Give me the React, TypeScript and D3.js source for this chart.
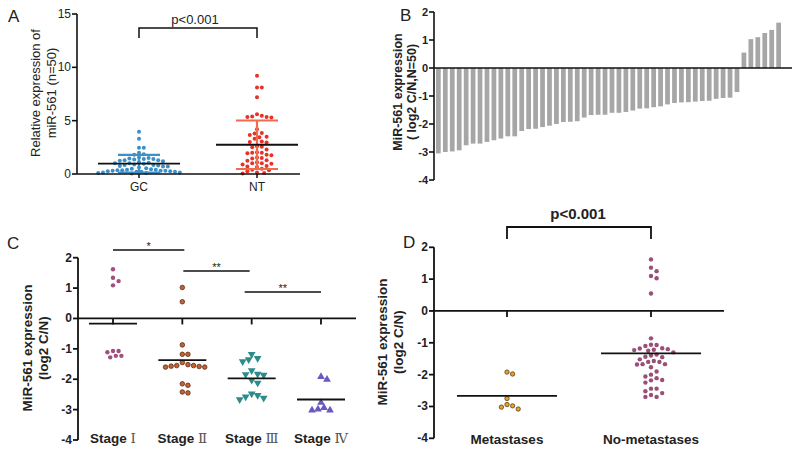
import React from "react";
import * as d3 from "d3";

// ---------- DATA ----------
const GROUPS_A = ["GC", "NT"];
const GC_VALUES = [3.95, 3.3, 2.45, 2.45, 2.0, 1.85, 1.8, 1.55, 1.5, 1.45, 1.4, 1.4, 1.35, 1.3, 1.3, 1.25, 1.2, 1.1, 1.05, 1.0, 1.0, 0.95, 0.9, 0.85, 0.85, 0.8, 0.75, 0.7, 0.7, 0.6, 0.55, 0.5, 0.45, 0.4, 0.4, 0.35, 0.35, 0.3, 0.3, 0.3, 0.25, 0.25, 0.2, 0.2, 0.2, 0.15, 0.15, 0.1, 0.1, 0.05];
const NT_VALUES = [9.2, 8.1, 8.1, 7.2, 5.6, 5.45, 5.4, 5.35, 5.35, 5.3, 4.2, 3.85, 3.8, 3.65, 3.5, 3.45, 3.3, 3.05, 3.0, 2.95, 2.6, 2.55, 2.5, 2.3, 2.05, 2.0, 2.0, 1.95, 1.8, 1.75, 1.55, 1.5, 1.45, 1.3, 1.25, 1.1, 1.0, 1.0, 0.95, 0.9, 0.75, 0.7, 0.65, 0.5, 0.4, 0.35, 0.25, 0.15, 0.1, 0.05];
const TICKS_A = [0, 5, 10, 15];

const FOLD_VALUES = [-3.05, -3.0, -2.98, -2.94, -2.76, -2.7, -2.7, -2.64, -2.58, -2.52, -2.44, -2.44, -2.25, -2.18, -2.17, -2.11, -2.06, -2.0, -1.93, -1.92, -1.9, -1.77, -1.68, -1.67, -1.67, -1.6, -1.6, -1.57, -1.52, -1.45, -1.44, -1.4, -1.37, -1.3, -1.25, -1.23, -1.22, -1.2, -1.18, -1.17, -1.1, -1.07, -1.06, -0.86, 0.55, 1.03, 1.1, 1.25, 1.36, 1.62];
const TICKS_LOG = [-4, -3, -2, -1, 0, 1, 2];

const STAGE_NUMERALS = ["Ⅰ", "Ⅱ", "Ⅲ", "Ⅳ"];
const STAGE_I = [1.62, 1.34, 1.23, 1.09, -1.07, -1.07, -1.11, -1.23, -1.28, -1.23];
const STAGE_II = [1.02, 0.55, -0.87, -1.18, -1.18, -1.45, -1.52, -1.55, -1.58, -1.6, -1.6, -1.57, -1.55, -2.15, -2.2, -2.42, -2.45];
const STAGE_III = [-1.18, -1.31, -1.35, -1.42, -1.71, -1.83, -1.84, -1.86, -2.03, -2.12, -2.48, -2.53, -2.58, -2.62, -2.67];
const STAGE_IV = [-1.92, -2.01, -2.77, -2.94, -2.99, -3.02, -3.02];
const STAGE_SIG = ["*", "**", "**"];

const GROUPS_D = ["Metastases", "No-metastases"];
const MET_VALUES = [-1.92, -1.98, -2.75, -2.94, -2.98, -3.02, -3.08];
const NONMET_VALUES = [1.62, 1.36, 1.25, 1.1, 1.03, 0.55, -0.86, -1.06, -1.07, -1.1, -1.17, -1.18, -1.2, -1.22, -1.23, -1.25, -1.3, -1.37, -1.4, -1.44, -1.45, -1.52, -1.57, -1.6, -1.6, -1.67, -1.67, -1.68, -1.77, -1.9, -2.0, -2.06, -2.11, -2.17, -2.18, -2.25, -2.44, -2.44, -2.52, -2.58, -2.64, -2.7, -2.7];

const P_TEXT = "p<0.001";

// ---------- helpers ----------
const SANS = "'Liberation Sans', Arial, sans-serif";

function swarm(values: number[], y: (v: number) => number, d: number) {
  const sorted = [...values].sort((a, b) => b - a);
  const placed: { x: number; y: number }[] = [];
  const step = d / 2;
  return sorted.map((v) => {
    const py = y(v);
    let dx = 0;
    for (let k = 0; k < 80; k++) {
      const m = Math.ceil(k / 2) * step;
      const cand = k === 0 ? 0 : k % 2 === 1 ? m : -m;
      if (placed.every((p) => (p.x - cand) ** 2 + (p.y - py) ** 2 >= d * d * 0.95)) {
        dx = cand;
        break;
      }
    }
    placed.push({ x: dx, y: py });
    return { v, dx };
  });
}

const triUp = d3.symbol(d3.symbolTriangle, 26)() as string;

function YAxis({ scale, ticks, x, bold, size = 11, width = 1.6 }: any) {
  const [r0, r1] = scale.range();
  return (
    <g>
      <line x1={x} x2={x} y1={Math.min(r0, r1)} y2={Math.max(r0, r1)} stroke="#111" strokeWidth={width} />
      {ticks.map((t: number) => (
        <g key={t}>
          <line x1={x - 5} x2={x} y1={scale(t)} y2={scale(t)} stroke="#111" strokeWidth={width} />
          <text x={x - 6} y={scale(t) + 4} textAnchor="end" fontSize={size} fontWeight={bold ? "bold" : "normal"} fontFamily={SANS} fill="#222">
            {t}
          </text>
        </g>
      ))}
    </g>
  );
}

function YTitle({ x, y, lines, bold, size, gap }: any) {
  return (
    <text transform={`translate(${x},${y}) rotate(-90)`} textAnchor="middle" fontSize={size} fontWeight={bold ? "bold" : "normal"} fontFamily={SANS} fill="#222">
      {lines.map((l: string, i: number) => (
        <tspan key={i} x={0} dy={i === 0 ? 0 : gap}>
          {l}
        </tspan>
      ))}
    </text>
  );
}

function PanelLabel({ x, y, t }: any) {
  return (
    <text x={x} y={y} fontSize={17} fontFamily={SANS} fill="#222">
      {t}
    </text>
  );
}

// ---------- Panel A ----------
function PanelA() {
  const y = d3.scaleLinear().domain([0, 15]).range([174, 14]);
  const x = d3.scalePoint<string>().domain(GROUPS_A).range([139, 257]);
  const sets = [
    { name: "GC", vals: GC_VALUES, dot: "#3a8fc9", bar: "#3d8fc6" },
    { name: "NT", vals: NT_VALUES, dot: "#e4332a", bar: "#ef6c4c" },
  ];
  return (
    <g>
      <PanelLabel x={8} y={22} t="A" />
      <YTitle x={40} y={93} lines={["Relative expression of", "miR-561 (n=50)"]} size={13} gap={16} />
      {sets.map((s) => {
        const cx = x(s.name)!;
        const m = d3.mean(s.vals)!;
        const sd = d3.deviation(s.vals)!;
        const pts = swarm(s.vals, y, 4.8);
        return (
          <g key={s.name}>
            {pts.map((p, i) => (
              <circle key={i} cx={cx + p.dx} cy={y(p.v)} r={2} fill={s.dot} />
            ))}
            <line x1={cx} x2={cx} y1={y(m + sd)} y2={y(Math.max(0, m - sd))} stroke={s.bar} strokeWidth={2.2} />
            <line x1={cx - 21} x2={cx + 21} y1={y(m + sd)} y2={y(m + sd)} stroke={s.bar} strokeWidth={2.2} />
            <line x1={cx - 21} x2={cx + 21} y1={y(Math.max(0, m - sd))} y2={y(Math.max(0, m - sd))} stroke={s.bar} strokeWidth={2.2} />
            <line x1={cx - 41} x2={cx + 41} y1={y(m)} y2={y(m)} stroke="#111" strokeWidth={1.8} />
            <line x1={cx} x2={cx} y1={y(0)} y2={y(0) + 4} stroke="#111" strokeWidth={1.5} />
            <text x={cx} y={191} textAnchor="middle" fontSize={12} fontFamily={SANS} fill="#222">
              {s.name}
            </text>
          </g>
        );
      })}
      <YAxis scale={y} ticks={TICKS_A} x={77} size={12} />
      <line x1={77} x2={300} y1={y(0)} y2={y(0)} stroke="#111" strokeWidth={1.6} />
      <path d={`M${x("GC")},38V28H${x("NT")}V38`} fill="none" stroke="#111" strokeWidth={1.5} />
      <text x={195} y={24} textAnchor="middle" fontSize={13} fontFamily={SANS} fill="#222">
        {P_TEXT}
      </text>
    </g>
  );
}

// ---------- Panel B ----------
function PanelB() {
  const y = d3.scaleLinear().domain([-4, 2]).range([180, 12]);
  const x = d3.scaleBand<number>().domain(d3.range(FOLD_VALUES.length)).range([436, 781]).paddingInner(0.32).paddingOuter(0);
  return (
    <g>
      <PanelLabel x={400} y={21} t="B" />
      <YTitle x={402} y={92} lines={["MiR-561 expression", "( log2 C/N,N=50)"]} bold size={12.5} gap={14} />
      {FOLD_VALUES.map((v, i) => (
        <rect key={i} x={x(i)} width={x.bandwidth()} y={y(Math.max(0, v))} height={Math.abs(y(v) - y(0))} fill="#a6a6a6" />
      ))}
      <YAxis scale={y} ticks={TICKS_LOG} x={434} bold size={11} width={1.6} />
      <line x1={434} x2={792} y1={y(0)} y2={y(0)} stroke="#111" strokeWidth={1.6} />
    </g>
  );
}

// ---------- Panel C ----------
function PanelC() {
  const y = d3.scaleLinear().domain([-4, 2]).range([440, 257.7]);
  const x = d3.scalePoint<string>().domain(STAGE_NUMERALS).range([113, 321]);
  const groups = [
    { vals: STAGE_I, kind: "dot", fill: "#a0507e", stroke: "none" },
    { vals: STAGE_II, kind: "dot", fill: "#c4622f", stroke: "#4a200c" },
    { vals: STAGE_III, kind: "down", fill: "#2c8c8c", stroke: "none" },
    { vals: STAGE_IV, kind: "up", fill: "#6a58c2", stroke: "none" },
  ];
  const sigY = [250, 271, 292];
  const sigX = [
    [x("Ⅰ")!, x("Ⅱ")! + 2],
    [x("Ⅱ")! + 1, x("Ⅲ")! - 2],
    [x("Ⅲ")! - 7, x("Ⅳ")!],
  ];
  return (
    <g>
      <PanelLabel x={7} y={249} t="C" />
      <YTitle x={32} y={348} lines={["MiR-561 expression", "(log2 C/N)"]} bold size={13.5} gap={16} />
      {groups.map((g, gi) => {
        const key = STAGE_NUMERALS[gi];
        const cx = x(key)!;
        const m = d3.mean(g.vals)!;
        const pts = swarm(g.vals, y, g.kind === "dot" ? 5.6 : 6);
        return (
          <g key={key}>
            {pts.map((p, i) =>
              g.kind === "dot" ? (
                <circle key={i} cx={cx + p.dx} cy={y(p.v)} r={g.stroke === "none" ? 2.2 : 2.3} fill={g.fill} stroke={g.stroke} strokeWidth={0.7} />
              ) : (
                <path key={i} d={triUp} transform={`translate(${cx + p.dx},${y(p.v)}) rotate(${g.kind === "down" ? 180 : 0})`} fill={g.fill} />
              )
            )}
            <line x1={cx - 24} x2={cx + 24} y1={y(m)} y2={y(m)} stroke="#111" strokeWidth={1.8} />
            <line x1={cx} x2={cx} y1={y(0)} y2={y(0) + 6} stroke="#111" strokeWidth={1.8} />
            <text x={cx} y={443} textAnchor="middle" fontSize={13.5} fontFamily={SANS} fill="#222">
              <tspan fontWeight="bold">Stage </tspan>
              <tspan fontFamily="'DejaVu Serif', 'Liberation Serif', serif" fill="#555" fontSize={13.5}>
                {key}
              </tspan>
            </text>
          </g>
        );
      })}
      <YAxis scale={y} ticks={TICKS_LOG} x={78} bold size={12} width={1.8} />
      <line x1={78} x2={356} y1={y(0)} y2={y(0)} stroke="#111" strokeWidth={1.8} />
      {STAGE_SIG.map((s, i) => (
        <g key={i}>
          <line x1={sigX[i][0]} x2={sigX[i][1]} y1={sigY[i]} y2={sigY[i]} stroke="#111" strokeWidth={1.5} />
          <text x={(sigX[i][0] + sigX[i][1]) / 2} y={sigY[i]} textAnchor="middle" fontSize={11} fontFamily={SANS} fill="#222">
            {s}
          </text>
        </g>
      ))}
    </g>
  );
}

// ---------- Panel D ----------
function PanelD() {
  const y = d3.scaleLinear().domain([-4, 2]).range([438.3, 247.3]);
  const x = d3.scalePoint<string>().domain(GROUPS_D).range([507, 651]);
  const groups = [
    { name: "Metastases", vals: MET_VALUES, fill: "#e3a12e", stroke: "#4a3008" },
    { name: "No-metastases", vals: NONMET_VALUES, fill: "#9a4f78", stroke: "none" },
  ];
  return (
    <g>
      <PanelLabel x={403} y={248} t="D" />
      <YTitle x={387} y={342} lines={["MiR-561 expression", "(log2 C/N)"]} bold size={13.5} gap={16} />
      {groups.map((g) => {
        const cx = x(g.name)!;
        const m = d3.mean(g.vals)!;
        const pts = swarm(g.vals, y, 5.6);
        return (
          <g key={g.name}>
            {pts.map((p, i) => (
              <circle key={i} cx={cx + p.dx} cy={y(p.v)} r={2.2} fill={g.fill} stroke={g.stroke} strokeWidth={0.7} />
            ))}
            <line x1={cx - 50} x2={cx + 50} y1={y(m)} y2={y(m)} stroke="#111" strokeWidth={1.8} />
            <line x1={cx} x2={cx} y1={y(0)} y2={y(0) + 6} stroke="#111" strokeWidth={1.8} />
            <text x={cx} y={444} textAnchor="middle" fontSize={13.5} fontWeight="bold" fontFamily={SANS} fill="#222">
              {g.name}
            </text>
          </g>
        );
      })}
      <YAxis scale={y} ticks={TICKS_LOG} x={434} bold size={12} width={1.8} />
      <line x1={434} x2={724} y1={y(0)} y2={y(0)} stroke="#111" strokeWidth={1.8} />
      <path d={`M${x("Metastases")},239V227H${x("No-metastases")}V239`} fill="none" stroke="#111" strokeWidth={1.8} />
      <text x={578} y={219} textAnchor="middle" fontSize={15} fontWeight="bold" fontFamily={SANS} fill="#222">
        {P_TEXT}
      </text>
    </g>
  );
}

export default function App() {
  return (
    <svg width={800} height={454} style={{ position: "absolute", left: 0, top: 0, background: "#fff" }}>
      <rect width={800} height={454} fill="#fff" />
      <PanelA />
      <PanelB />
      <PanelC />
      <PanelD />
    </svg>
  );
}
